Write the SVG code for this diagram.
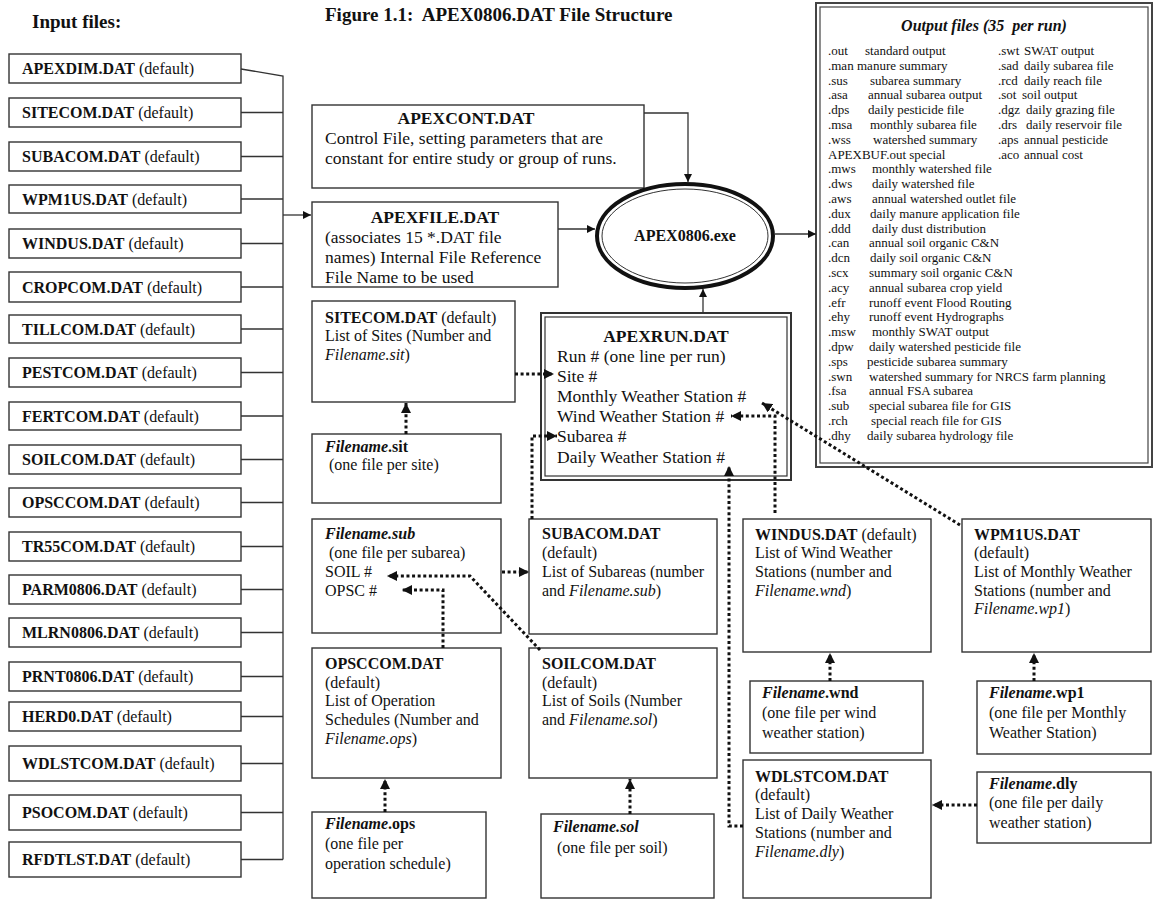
<svg xmlns="http://www.w3.org/2000/svg" width="1155" height="903" viewBox="0 0 1155 903">
<style>
text{font-family:"Liberation Serif","Times New Roman",serif;fill:#111;white-space:pre}
.f16{font-size:16px}
.f17{font-size:17.5px}
.f13{font-size:13px}
.b{font-weight:bold}
.i{font-style:italic}
.box{fill:#fff;stroke:#333;stroke-width:1.4}
.conn{fill:none;stroke:#333;stroke-width:1.3}
.dot{fill:none;stroke:#111;stroke-width:3;stroke-dasharray:3 2.6}
</style>
<defs>
<marker id="ah" viewBox="0 0 10 10" refX="10" refY="5" markerWidth="8" markerHeight="8" markerUnits="userSpaceOnUse" orient="auto"><path d="M0,0 L10,5 L0,10 z" fill="#111"/></marker>
<marker id="ahd" viewBox="0 0 10 10" refX="10" refY="5" markerWidth="10" markerHeight="10" markerUnits="userSpaceOnUse" orient="auto"><path d="M0,0 L10,5 L0,10 z" fill="#111"/></marker>
</defs>
<rect width="1155" height="903" fill="#fff"/>
<text x="32" y="28" class="b" style="font-size:19px">Input files:</text>
<text x="325" y="21" class="b" style="font-size:19px" xml:space="preserve">Figure 1.1:  APEX0806.DAT File Structure</text>

<g id="inputs">
<g id="in-apexdim"><rect class="box" x="9" y="54" width="232" height="29"/><text x="22" y="74" class="f16"><tspan class="b">APEXDIM.DAT</tspan> (default)</text></g>
<g id="in-sitecom"><rect class="box" x="9" y="98" width="232" height="29"/><text x="22" y="118" class="f16"><tspan class="b">SITECOM.DAT</tspan> (default)</text></g>
<g id="in-subacom"><rect class="box" x="9" y="142" width="232" height="29"/><text x="22" y="162" class="f16"><tspan class="b">SUBACOM.DAT</tspan> (default)</text></g>
<g id="in-wpm1us"><rect class="box" x="9" y="185" width="232" height="28"/><text x="22" y="205" class="f16"><tspan class="b">WPM1US.DAT</tspan> (default)</text></g>
<g id="in-windus"><rect class="box" x="9" y="229" width="232" height="29"/><text x="22" y="249" class="f16"><tspan class="b">WINDUS.DAT</tspan> (default)</text></g>
<g id="in-cropcom"><rect class="box" x="9" y="272" width="232" height="30"/><text x="22" y="293" class="f16"><tspan class="b">CROPCOM.DAT</tspan> (default)</text></g>
<g id="in-tillcom"><rect class="box" x="9" y="315" width="232" height="28"/><text x="22" y="335" class="f16"><tspan class="b">TILLCOM.DAT</tspan> (default)</text></g>
<g id="in-pestcom"><rect class="box" x="9" y="358" width="232" height="29"/><text x="22" y="378" class="f16"><tspan class="b">PESTCOM.DAT</tspan> (default)</text></g>
<g id="in-fertcom"><rect class="box" x="9" y="402" width="232" height="28"/><text x="22" y="422" class="f16"><tspan class="b">FERTCOM.DAT</tspan> (default)</text></g>
<g id="in-soilcom"><rect class="box" x="9" y="445" width="232" height="29"/><text x="22" y="465" class="f16"><tspan class="b">SOILCOM.DAT</tspan> (default)</text></g>
<g id="in-opsccom"><rect class="box" x="9" y="488" width="232" height="29"/><text x="22" y="508" class="f16"><tspan class="b">OPSCCOM.DAT</tspan> (default)</text></g>
<g id="in-tr55com"><rect class="box" x="9" y="532" width="232" height="29"/><text x="22" y="552" class="f16"><tspan class="b">TR55COM.DAT</tspan> (default)</text></g>
<g id="in-parm"><rect class="box" x="9" y="575" width="232" height="29"/><text x="22" y="595" class="f16"><tspan class="b">PARM0806.DAT</tspan> (default)</text></g>
<g id="in-mlrn"><rect class="box" x="9" y="618" width="232" height="29"/><text x="22" y="638" class="f16"><tspan class="b">MLRN0806.DAT</tspan> (default)</text></g>
<g id="in-prnt"><rect class="box" x="9" y="662" width="232" height="29"/><text x="22" y="682" class="f16"><tspan class="b">PRNT0806.DAT</tspan> (default)</text></g>
<g id="in-herd"><rect class="box" x="9" y="702" width="232" height="29"/><text x="22" y="722" class="f16"><tspan class="b">HERD0.DAT</tspan> (default)</text></g>
<g id="in-wdlstcom"><rect class="box" x="9" y="746" width="232" height="35"/><text x="22" y="769" class="f16"><tspan class="b">WDLSTCOM.DAT</tspan> (default)</text></g>
<g id="in-psocom"><rect class="box" x="9" y="795" width="232" height="35"/><text x="22" y="818" class="f16"><tspan class="b">PSOCOM.DAT</tspan> (default)</text></g>
<g id="in-rfdtlst"><rect class="box" x="9" y="842" width="232" height="35"/><text x="22" y="865" class="f16"><tspan class="b">RFDTLST.DAT</tspan> (default)</text></g>
</g>

<g id="apexcont"><rect class="box" x="312" y="105" width="332" height="83"/>
<text x="466" y="124" class="f17 b" text-anchor="middle">APEXCONT.DAT</text>
<text x="325" y="144" class="f17">Control File, setting parameters that are</text>
<text x="325" y="164" class="f17">constant for entire study or group of runs.</text></g>

<g id="apexfile"><rect class="box" x="312" y="202" width="246" height="85"/>
<text x="435" y="223" class="f17 b" text-anchor="middle">APEXFILE.DAT</text>
<text x="325" y="243" class="f17">(associates 15 *.DAT file</text>
<text x="325" y="263" class="f17">names) Internal File Reference</text>
<text x="325" y="283" class="f17">File Name to be used</text></g>

<g id="apexexe"><ellipse cx="685" cy="236" rx="88" ry="52" fill="#fff" stroke="#111" stroke-width="4"/>
<ellipse cx="685" cy="236" rx="83" ry="47" fill="none" stroke="#333" stroke-width="1"/>
<text x="685" y="241" class="f16 b" text-anchor="middle">APEX0806.exe</text></g>

<g id="outputs"><rect x="816" y="3" width="336" height="464" fill="#fff" stroke="#444" stroke-width="2"/>
<rect x="820" y="7" width="328" height="456" fill="none" stroke="#444" stroke-width="1.2"/>
<text x="984" y="31" class="b i f16" text-anchor="middle" xml:space="preserve">Output files (35  per run)</text>
<g class="f13">
<text x="828" y="55">.out</text><text x="865" y="55">standard output</text>
<text x="828" y="70">.man</text><text x="857" y="70">manure summary</text>
<text x="828" y="85">.sus</text><text x="870" y="85">subarea summary</text>
<text x="828" y="99">.asa</text><text x="868" y="99">annual subarea output</text>
<text x="828" y="114">.dps</text><text x="868" y="114">daily pesticide file</text>
<text x="828" y="129">.msa</text><text x="870" y="129">monthly subarea file</text>
<text x="828" y="144">.wss</text><text x="873" y="144">watershed summary</text>
<text x="828" y="159">APEXBUF.out special</text>
<text x="828" y="173">.mws</text><text x="872" y="173">monthly watershed file</text>
<text x="828" y="188">.dws</text><text x="872" y="188">daily watershed file</text>
<text x="828" y="203">.aws</text><text x="872" y="203">annual watershed outlet file</text>
<text x="828" y="218">.dux</text><text x="870" y="218">daily manure application file</text>
<text x="828" y="233">.ddd</text><text x="872" y="233">daily dust distribution</text>
<text x="828" y="247">.can</text><text x="869" y="247">annual soil organic C&amp;N</text>
<text x="828" y="262">.dcn</text><text x="870" y="262">daily soil organic C&amp;N</text>
<text x="828" y="277">.scx</text><text x="869" y="277">summary soil organic C&amp;N</text>
<text x="828" y="292">.acy</text><text x="869" y="292">annual subarea crop yield</text>
<text x="828" y="307">.efr</text><text x="869" y="307">runoff event Flood Routing</text>
<text x="828" y="321">.ehy</text><text x="869" y="321">runoff event Hydrographs</text>
<text x="828" y="336">.msw</text><text x="872" y="336">monthly SWAT output</text>
<text x="828" y="351">.dpw</text><text x="869" y="351">daily watershed pesticide file</text>
<text x="828" y="366">.sps</text><text x="867" y="366">pesticide subarea summary</text>
<text x="828" y="381">.swn</text><text x="869" y="381">watershed summary for NRCS farm planning</text>
<text x="828" y="395">.fsa</text><text x="869" y="395">annual FSA subarea</text>
<text x="828" y="410">.sub</text><text x="869" y="410">special subarea file for GIS</text>
<text x="828" y="425">.rch</text><text x="871" y="425">special reach file for GIS</text>
<text x="828" y="440">.dhy</text><text x="867" y="440">daily subarea hydrology file</text>
<text x="998" y="55">.swt</text><text x="1024" y="55">SWAT output</text>
<text x="998" y="70">.sad</text><text x="1024" y="70">daily subarea file</text>
<text x="998" y="85">.rcd</text><text x="1024" y="85">daily reach file</text>
<text x="998" y="99">.sot</text><text x="1022" y="99">soil output</text>
<text x="998" y="114">.dgz</text><text x="1026" y="114">daily grazing file</text>
<text x="998" y="129">.drs</text><text x="1026" y="129">daily reservoir file</text>
<text x="998" y="144">.aps</text><text x="1024" y="144">annual pesticide</text>
<text x="998" y="159">.aco</text><text x="1024" y="159">annual cost</text>
</g></g>

<g id="sitecom"><rect class="box" x="312" y="301" width="203" height="101"/>
<text x="325" y="323" class="f16"><tspan class="b">SITECOM.DAT</tspan> (default)</text>
<text x="325" y="341" class="f16">List of Sites (Number and</text>
<text x="325" y="360" class="f16"><tspan class="i">Filename.sit</tspan>)</text></g>

<g id="filesit"><rect class="box" x="312" y="434" width="189" height="69"/>
<text x="325" y="452" class="f16 b"><tspan class="i">Filename</tspan>.sit</text>
<text x="325" y="470" class="f16" xml:space="preserve"> (one file per site)</text></g>

<g id="apexrun"><rect x="541" y="313" width="250" height="167" fill="#fff" stroke="#333" stroke-width="2"/>
<rect x="545" y="317" width="242" height="159" fill="none" stroke="#333" stroke-width="1.2"/>
<text x="666" y="342" class="f17 b" text-anchor="middle">APEXRUN.DAT</text>
<text x="557" y="362" class="f17">Run # (one line per run)</text>
<text x="557" y="382" class="f17">Site #</text>
<text x="557" y="402" class="f17">Monthly Weather Station #</text>
<text x="557" y="422" class="f17">Wind Weather Station #</text>
<text x="557" y="442" class="f17">Subarea #</text>
<text x="557" y="463" class="f17">Daily Weather Station #</text></g>

<g id="filesub"><rect class="box" x="312" y="519" width="189" height="114"/>
<text x="325" y="539" class="f16 b i">Filename.sub</text>
<text x="325" y="558" class="f16" xml:space="preserve"> (one file per subarea)</text>
<text x="325" y="577" class="f16">SOIL #</text>
<text x="325" y="596" class="f16">OPSC #</text></g>

<g id="subacom"><rect class="box" x="529" y="519" width="188" height="115"/>
<text x="542" y="539" class="f16 b">SUBACOM.DAT</text>
<text x="542" y="558" class="f16">(default)</text>
<text x="542" y="577" class="f16">List of Subareas (number</text>
<text x="542" y="596" class="f16">and <tspan class="i">Filename.sub</tspan>)</text></g>

<g id="opsccom"><rect class="box" x="312" y="648" width="189" height="130"/>
<text x="325" y="669" class="f16 b">OPSCCOM.DAT</text>
<text x="325" y="688" class="f16">(default)</text>
<text x="325" y="706" class="f16">List of Operation</text>
<text x="325" y="725" class="f16">Schedules (Number and</text>
<text x="325" y="744" class="f16"><tspan class="i">Filename.ops</tspan>)</text></g>

<g id="soilcom"><rect class="box" x="529" y="648" width="188" height="130"/>
<text x="542" y="669" class="f16 b">SOILCOM.DAT</text>
<text x="542" y="688" class="f16">(default)</text>
<text x="542" y="706" class="f16">List of Soils (Number</text>
<text x="542" y="725" class="f16">and <tspan class="i">Filename.sol</tspan>)</text></g>

<g id="fileops"><rect class="box" x="312" y="812" width="174" height="86"/>
<text x="325" y="829" class="f16 b"><tspan class="i">Filename</tspan>.ops</text>
<text x="325" y="849" class="f16">(one file per</text>
<text x="325" y="869" class="f16">operation schedule)</text></g>

<g id="filesol"><rect class="box" x="541" y="814" width="173" height="84"/>
<text x="553" y="832" class="f16 b i">Filename.sol</text>
<text x="553" y="853" class="f16" xml:space="preserve"> (one file per soil)</text></g>

<g id="windus"><rect class="box" x="743" y="519" width="188" height="133"/>
<text x="755" y="540" class="f16"><tspan class="b">WINDUS.DAT</tspan> (default)</text>
<text x="755" y="558" class="f16">List of Wind Weather</text>
<text x="755" y="577" class="f16">Stations (number and</text>
<text x="755" y="596" class="f16"><tspan class="i">Filename.wnd</tspan>)</text></g>

<g id="wpm1us"><rect class="box" x="962" y="519" width="189" height="133"/>
<text x="974" y="540" class="f16 b">WPM1US.DAT</text>
<text x="974" y="558" class="f16">(default)</text>
<text x="974" y="577" class="f16">List of Monthly Weather</text>
<text x="974" y="596" class="f16">Stations (number and</text>
<text x="974" y="614" class="f16"><tspan class="i">Filename.wp1</tspan>)</text></g>

<g id="filewnd"><rect class="box" x="750" y="681" width="173" height="72"/>
<text x="762" y="698" class="f16 b"><tspan class="i">Filename</tspan>.wnd</text>
<text x="762" y="718" class="f16">(one file per wind</text>
<text x="762" y="738" class="f16">weather station)</text></g>

<g id="filewp1"><rect class="box" x="977" y="681" width="174" height="73"/>
<text x="989" y="698" class="f16 b"><tspan class="i">Filename</tspan>.wp1</text>
<text x="989" y="718" class="f16">(one file per Monthly</text>
<text x="989" y="738" class="f16">Weather Station)</text></g>

<g id="wdlstcom"><rect class="box" x="743" y="760" width="188" height="138"/>
<text x="755" y="782" class="f16 b">WDLSTCOM.DAT</text>
<text x="755" y="800" class="f16">(default)</text>
<text x="755" y="819" class="f16">List of Daily Weather</text>
<text x="755" y="838" class="f16">Stations (number and</text>
<text x="755" y="857" class="f16"><tspan class="i">Filename.dly</tspan>)</text></g>

<g id="filedly"><rect class="box" x="977" y="772" width="174" height="71"/>
<text x="989" y="789" class="f16 b"><tspan class="i">Filename</tspan>.dly</text>
<text x="989" y="808" class="f16">(one file per daily</text>
<text x="989" y="828" class="f16">weather station)</text></g>

<g id="connectors">
<path class="conn" d="M241,69 L283,76 L283,859.5"/>
<path class="conn" d="M241,112.5 H283 M241,156.5 H283 M241,199 H283 M241,243.5 H283 M241,287 H283 M241,329 H283 M241,372.5 H283 M241,416 H283 M241,459.5 H283 M241,502.5 H283 M241,546.5 H283 M241,589.5 H283 M241,632.5 H283 M241,676.5 H283 M241,716.5 H283 M241,763.5 H283 M241,812.5 H283 M241,859.5 H283"/>
<path class="conn" d="M283,215 H311" marker-end="url(#ah)"/>
<path class="conn" d="M644,113 H688 V182" marker-end="url(#ah)"/>
<path class="conn" d="M558,229 H595" marker-end="url(#ah)"/>
<path class="conn" d="M775,234 H816" marker-end="url(#ah)"/>
<path class="conn" d="M703,313 V289" marker-end="url(#ah)"/>
<path class="dot" d="M406,434 V403" marker-end="url(#ahd)"/>
<path class="dot" d="M515,374 H554" marker-end="url(#ahd)"/>
<path class="dot" d="M532,519 V436 H557" marker-end="url(#ahd)"/>
<path class="dot" d="M743,826 H729 V466" marker-end="url(#ahd)"/>
<path class="dot" d="M775,513 V416 H731" marker-end="url(#ahd)"/>
<path class="dot" d="M960,525 L762,403" marker-end="url(#ahd)"/>
<path class="dot" d="M502,572 H529" marker-end="url(#ahd)"/>
<path class="dot" d="M540,650 L470,576 H387" marker-end="url(#ahd)"/>
<path class="dot" d="M443,648 V590 H402" marker-end="url(#ahd)"/>
<path class="dot" d="M385,812 V779" marker-end="url(#ahd)"/>
<path class="dot" d="M630,814 V779" marker-end="url(#ahd)"/>
<path class="dot" d="M830,681 V653" marker-end="url(#ahd)"/>
<path class="dot" d="M1034,681 V653" marker-end="url(#ahd)"/>
<path class="dot" d="M977,805 H932" marker-end="url(#ahd)"/>
</g>
</svg>
